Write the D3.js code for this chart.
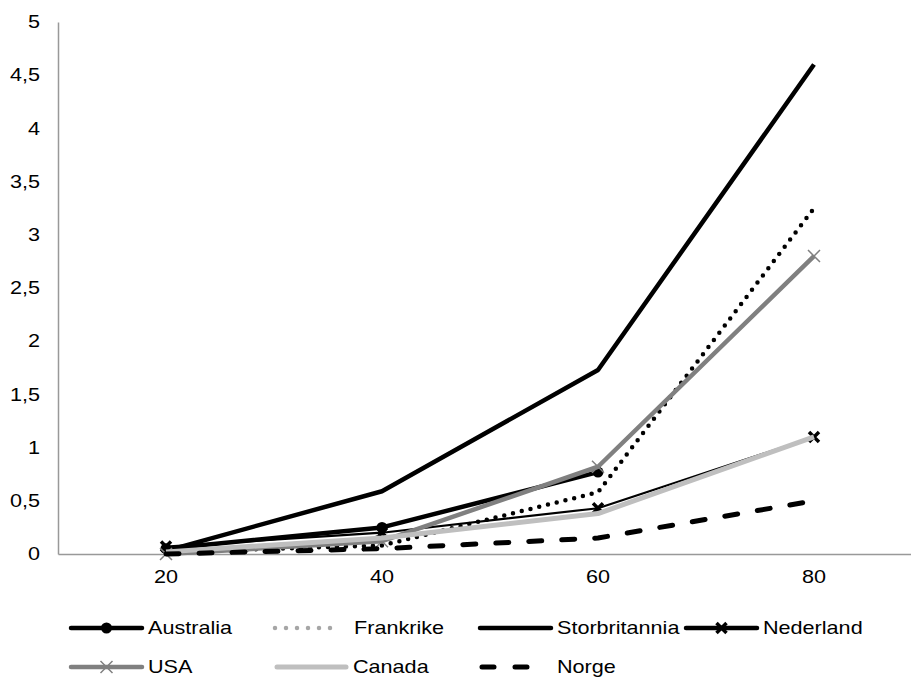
<!DOCTYPE html>
<html><head><meta charset="utf-8">
<script src="https://cdn.jsdelivr.net/npm/d3@7"></script>
<style>
body{margin:0;background:#fff;}
svg{display:block;font-family:"Liberation Sans",Arial,sans-serif;}
</style></head>
<body>
<svg id="c" width="911" height="677"></svg>
<script>
const categories = ["20","40","60","80"];
const australia = [0.05, 0.25, 0.77, null];
const frankrike = [0.02, 0.08, 0.58, 3.25];
const storbritannia = [0.03, 0.59, 1.73, 4.6];
const nederland = [0.07, 0.2, 0.43, 1.1];
const usa = [0.0, 0.12, 0.82, 2.8];
const canada = [0.02, 0.15, 0.38, 1.1];
const norge = [0.0, 0.05, 0.15, 0.5];
const yTicks = [0,0.5,1,1.5,2,2.5,3,3.5,4,4.5,5];

const series = [
  {name:"Australia", values:australia, color:"#000", width:4.5, dash:null, marker:"circle", legendColor:"#000"},
  {name:"Frankrike", values:frankrike, color:"#000", width:4.5, dash:"0 9", cap:"round", marker:null, legendColor:"#a6a6a6"},
  {name:"Storbritannia", values:storbritannia, color:"#000", width:4.5, dash:null, marker:null, legendColor:"#000"},
  {name:"Nederland", values:nederland, color:"#000", width:2.2, dash:null, marker:"xbold", legendColor:"#000", legendWidth:4.5},
  {name:"USA", values:usa, color:"#808080", width:4.5, dash:null, marker:"xthin", legendColor:"#808080"},
  {name:"Canada", values:canada, color:"#bfbfbf", width:5, dash:null, marker:null, legendColor:"#bfbfbf"},
  {name:"Norge", values:norge, color:"#000", width:5, dash:"13 20", cap:"round", marker:null, legendColor:"#000"}
];

const SX = 1.2; // horizontal stretch of the text in the reference
const svg = d3.select("#c");
const x = d3.scaleBand().domain(categories).range([58, 922]);
const y = d3.scaleLinear().domain([0,5]).range([554, 22]);
const cx = d => x(d) + x.bandwidth()/2;
const fmt = v => String(v).replace(".", ",");

// axes
const yAxis = svg.append("g").attr("transform","translate(58,0)")
  .call(d3.axisLeft(y).tickValues(yTicks).tickFormat(fmt).tickSize(0).tickPadding(18));
yAxis.select(".domain").attr("stroke","#999").attr("stroke-width",1.5);
yAxis.selectAll("text").attr("font-size",18).attr("fill","#000")
  .attr("x", -18/SX).attr("transform", `scale(${SX},1)`);

const xAxis = svg.append("g").attr("transform","translate(0,554)")
  .call(d3.axisBottom(x).tickSize(0).tickPadding(16));
xAxis.select(".domain").attr("stroke","#999").attr("stroke-width",1.5);
xAxis.selectAll("text").attr("font-size",18).attr("fill","#000")
  .attr("transform", `scale(${SX},1)`);

const line = d3.line().defined(d => d.v !== null).x(d => cx(d.c)).y(d => y(d.v));

function drawMarker(g, type, px, py, color){
  if(type==="circle"){
    g.append("circle").attr("cx",px).attr("cy",py).attr("r",5.5).attr("fill",color);
  } else if(type==="xbold"){
    const s=5;
    g.append("path").attr("d",`M${px-s},${py-s}L${px+s},${py+s}M${px-s},${py+s}L${px+s},${py-s}`)
      .attr("stroke",color).attr("stroke-width",3.5);
  } else if(type==="xthin"){
    const s=6;
    g.append("path").attr("d",`M${px-s},${py-s}L${px+s},${py+s}M${px-s},${py+s}L${px+s},${py-s}`)
      .attr("stroke",color).attr("stroke-width",1.5);
  }
}

series.forEach(s => {
  const data = categories.map((c,i) => ({c, v:s.values[i]}));
  const g = svg.append("g");
  g.append("path").datum(data).attr("d", line)
    .attr("fill","none").attr("stroke", s.color).attr("stroke-width", s.width)
    .attr("stroke-linejoin","round")
    .attr("stroke-linecap", s.cap || "butt")
    .attr("stroke-dasharray", s.dash);
  if(s.marker){
    data.filter(d => d.v !== null).forEach(d => drawMarker(g, s.marker, cx(d.c), y(d.v), s.color));
  }
});

// legend
const legendPos = [
  {x1:71, x2:142, tx:148, y:628},
  {x1:275, x2:340, tx:354, y:628},
  {x1:480, x2:551, tx:557, y:628},
  {x1:686, x2:757, tx:763, y:628},
  {x1:71, x2:142, tx:148, y:667},
  {x1:277, x2:346, tx:353, y:667},
  {x1:482, x2:540, tx:557, y:667}
];
const lg = svg.append("g");
series.forEach((s,i) => {
  const p = legendPos[i];
  lg.append("line").attr("x1",p.x1).attr("x2",p.x2).attr("y1",p.y).attr("y2",p.y)
    .attr("stroke", s.legendColor).attr("stroke-width", s.legendWidth || s.width)
    .attr("stroke-linecap", s.cap || "round")
    .attr("stroke-dasharray", s.name==="Frankrike" ? "0 11" : (s.name==="Norge" ? "12 21" : null));
  if(s.marker) drawMarker(lg, s.marker, (p.x1+p.x2)/2, p.y, s.legendColor);
  lg.append("text").attr("transform",`translate(${p.tx},${p.y}) scale(${SX},1)`).attr("dy","0.36em")
    .attr("font-size",18).attr("fill","#000").text(s.name);
});
</script>
</body></html>
